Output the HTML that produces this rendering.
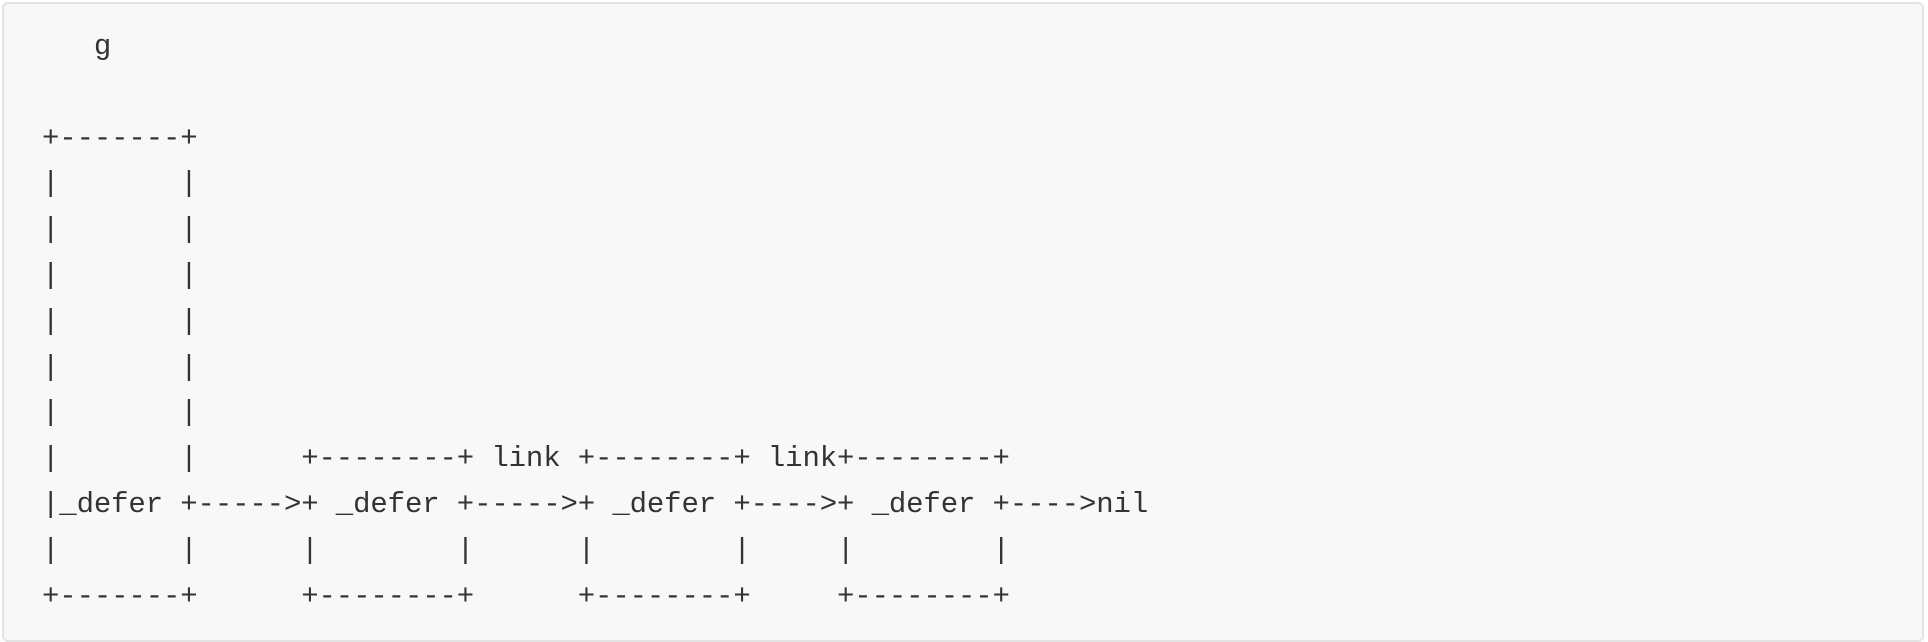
<!DOCTYPE html>
<html><head><style>
html,body{margin:0;padding:0;background:#fff;}
.box{position:absolute;left:2px;top:2px;width:1922px;height:640px;background:#f8f8f8;border:2px solid #e3e3e3;border-radius:6px;box-sizing:border-box;}
pre{position:absolute;left:42px;top:24px;margin:0;font-family:"Liberation Mono",monospace;font-size:29px;letter-spacing:-0.12px;line-height:45.8px;color:#333;}
</style></head><body>
<div class="box"></div>
<pre>   g

+-------+
|       |
|       |
|       |
|       |
|       |
|       |
|       |      +--------+ link +--------+ link+--------+
|_defer +----->+ _defer +----->+ _defer +---->+ _defer +---->nil
|       |      |        |      |        |     |        |
+-------+      +--------+      +--------+     +--------+</pre>
</body></html>
